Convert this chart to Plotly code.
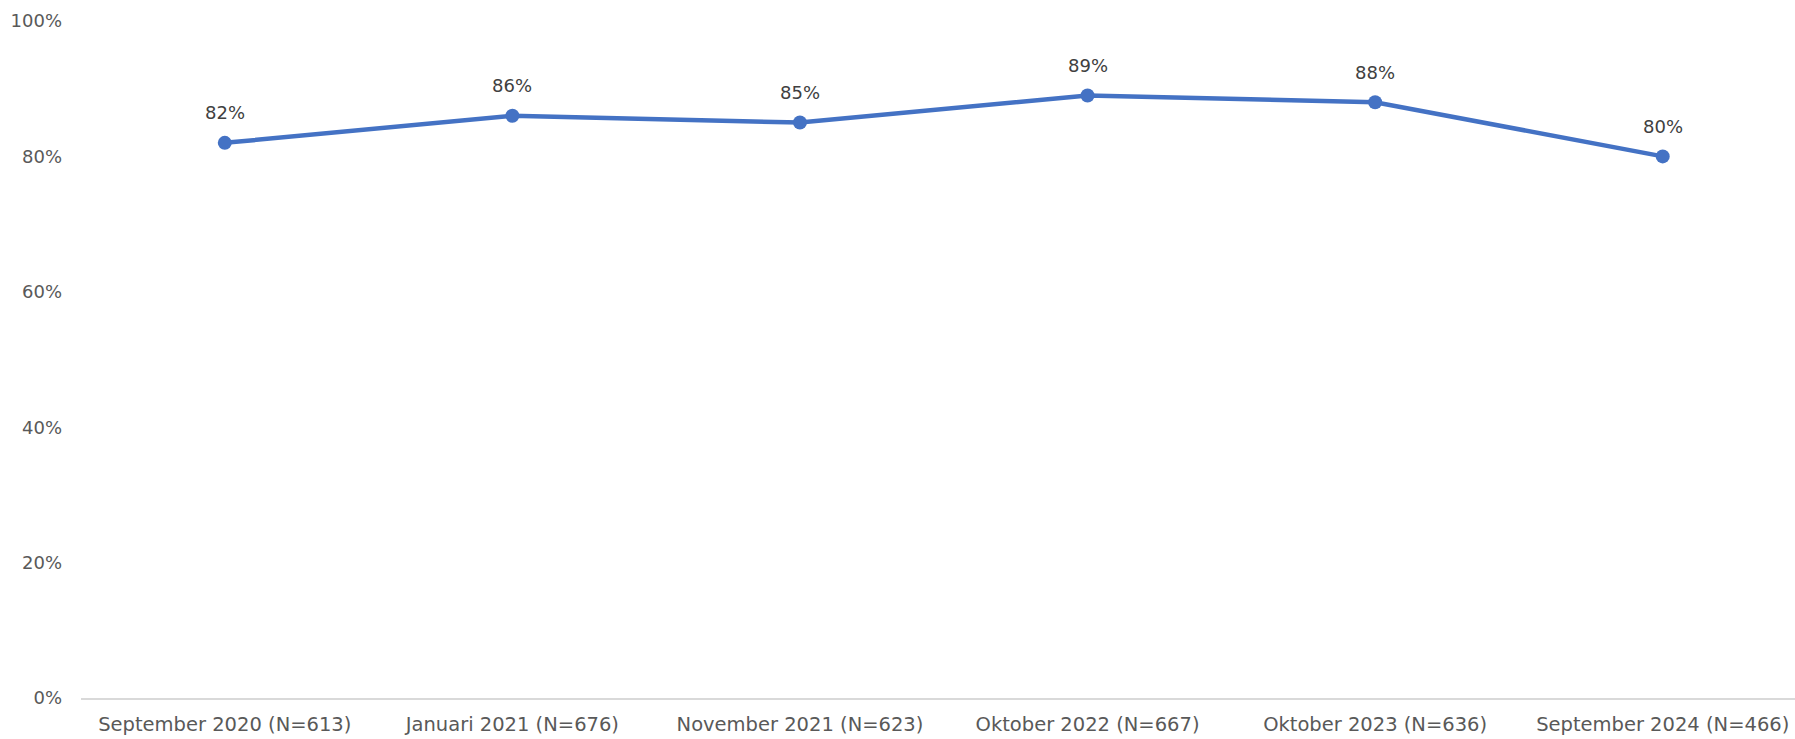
import plotly.graph_objects as go

# Survey waves and share of respondents (%)
categories = [
    "September 2020 (N=613)",
    "Januari 2021 (N=676)",
    "November 2021 (N=623)",
    "Oktober 2022 (N=667)",
    "Oktober 2023 (N=636)",
    "September 2024 (N=466)",
]
values = [82, 86, 85, 89, 88, 80]
y_ticks = [0, 20, 40, 60, 80, 100]

FONT = "'DejaVu Sans', sans-serif"
BLUE = "#4472C4"

fig = go.Figure()
fig.add_trace(
    go.Scatter(
        x=list(range(len(categories))),
        y=values,
        mode="lines+markers",
        line=dict(color=BLUE, width=4.5),
        marker=dict(color=BLUE, size=14),
        cliponaxis=False,
        hoverinfo="skip",
    )
)

# Value labels sitting above each point
for i, v in enumerate(values):
    fig.add_annotation(
        x=i, y=v, text=f"{v}%", showarrow=False, yshift=30,
        font=dict(family=FONT, size=18, color="#404040"),
    )

fig.update_layout(
    width=1795,
    height=739,
    margin=dict(l=81, r=0, t=21, b=41),
    plot_bgcolor="white",
    paper_bgcolor="white",
    showlegend=False,
    font=dict(family=FONT, color="#595959", size=18),
)

fig.update_xaxes(
    range=[-0.5, 5.46],
    tickmode="array",
    tickvals=list(range(len(categories))),
    ticktext=categories,
    showgrid=False,
    zeroline=False,
    showline=True,
    linecolor="#D9D9D9",
    linewidth=2,
    ticks="",
    ticklabelstandoff=8,
    tickfont=dict(family=FONT, size=19.5, color="#595959"),
)

fig.update_yaxes(
    range=[0, 100],
    tickmode="array",
    tickvals=y_ticks,
    ticktext=[f"{t}%" for t in y_ticks],
    showgrid=False,
    zeroline=False,
    showline=False,
    ticks="",
    ticklabelstandoff=18,
    tickfont=dict(family=FONT, size=18, color="#595959"),
)

fig.write_html("out.html")
